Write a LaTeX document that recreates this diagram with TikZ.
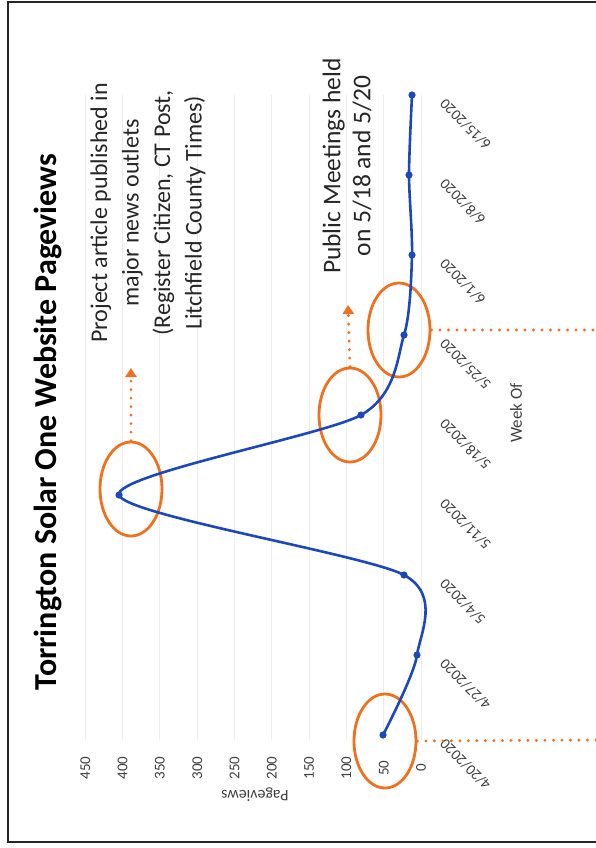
\documentclass[tikz,border=0pt]{standalone}
\usepackage{fontspec}
\setmainfont{Carlito}
\usetikzlibrary{arrows.meta,shapes.geometric}
\definecolor{lineblue}{RGB}{28,72,190}
\definecolor{hiorange}{RGB}{240,112,30}

\begin{document}
\begin{tikzpicture}[x=1pt, y=-1pt,
  hilite/.style={draw=hiorange, line width=2.8pt, ellipse, minimum width=62pt, minimum height=94pt, inner sep=0pt},
  dots/.style={hiorange, line width=3.2pt, dash pattern=on 0pt off 8.5pt, line cap=round},
  ticklab/.style={text=black!75, font=\fontsize{15}{17}\selectfont},
  note/.style={rotate=90, align=center, text=black!85}]
  \useasboundingbox (0,0) rectangle (596,848);
  \draw[black!85, line width=1.8pt] (596,2) -- (8,2) -- (8,842) -- (596,842);
  % value axis
  \foreach \v in {0,50,...,450} {
    \draw[black!7, line width=1pt] (421-0.746*\v,95) -- (421-0.746*\v,740);
    \node[ticklab, rotate=90] (v\v) at (421-0.746*\v,768) {\v};
  }
  \node[ticklab, font=\fontsize{16}{18}\selectfont, rotate=180] (yTitle) at (255,795) {Pageviews};
  % weeks
  \foreach \wk [count=\i from 0] in {4/20,4/27,5/4,5/11,5/18,5/25,6/1,6/8,6/15}
    \node[ticklab, rotate=135, anchor=east] (d\i) at (440,739-80*\i) {\wk/2020};
  \node[ticklab, font=\fontsize{17}{19}\selectfont, rotate=90] (xTitle) at (516,413) {Week Of};
  % highlights
  \node[hilite] (hlStart) at (385,741) {};
  \node[hilite] (hlPeak) at (131,489) {};
  \node[hilite] (hlMeet) at (350,415) {};
  \node[hilite] (hlLate) at (399,330) {};
  % pageviews curve
  \foreach \px [count=\i from 0] in {383,417,404,119,361,404,412,409,412}
    \coordinate (p\i) at (\px,735-80*\i);
  \draw[lineblue, line width=2.6pt] plot[smooth, tension=0.45] coordinates {(p0) (p1) (p2) (p3) (p4) (p5) (p6) (p7) (p8)};
  \foreach \i in {0,...,8}
    \fill[lineblue] (p\i) circle (3.6pt);
  % callouts
  \coordinate (tipPeak) at (131,368);
  \coordinate (tipMeet) at (348,305);
  \coordinate (edgeA) at (596,740);
  \coordinate (edgeB) at (596,330);
  \draw[dots, -{Triangle[length=9pt,width=11pt]}] (hlPeak.north) -- (tipPeak);
  \draw[dots, -{Triangle[length=9pt,width=11pt]}] (hlMeet.north) -- (tipMeet);
  \draw[dots] (hlStart.east) -- (edgeA);
  \draw[dots] (hlLate.east) -- (edgeB);
  \node[font=\bfseries\fontsize{32}{36}\selectfont, rotate=90] (title) at (48,422) {Torrington Solar One Website Pageviews};
  \node[note, font=\fontsize{24}{31.5}\selectfont] (newsNote) at (148,213) {Project article published in\\ major news outlets\\ (Register Citizen, CT Post,\\ Litchfield County Times)};
  \node[note, font=\fontsize{25.5}{30}\selectfont] (meetNote) at (347,166) {Public Meetings held\\ on 5/18 and 5/20};
\end{tikzpicture}
\end{document}
